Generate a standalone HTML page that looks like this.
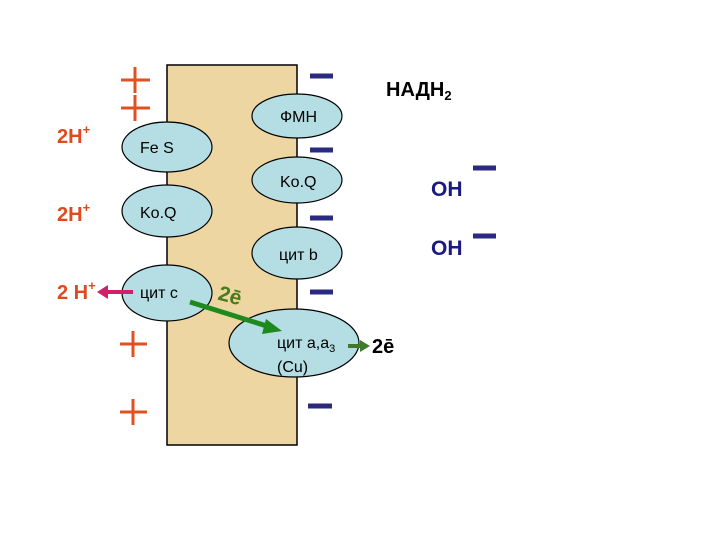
<!DOCTYPE html>
<html><head><meta charset="utf-8"><style>
html,body{margin:0;padding:0;background:#fff;}
svg{display:block;}
text{font-family:"Liberation Sans",sans-serif;}
</style></head><body>
<svg width="720" height="540" viewBox="0 0 720 540" xmlns="http://www.w3.org/2000/svg">
<rect x="167" y="65" width="130" height="380" fill="#eed6a2" stroke="#000" stroke-width="1.5"/>
<g stroke="#e05020" stroke-width="3">
<line x1="121" y1="80" x2="150" y2="80"/><line x1="135" y1="67" x2="135" y2="93"/>
<line x1="121" y1="108" x2="150" y2="108"/><line x1="135" y1="95" x2="135" y2="121"/>
<line x1="120" y1="344" x2="147" y2="344"/><line x1="133" y1="331" x2="133" y2="357"/>
<line x1="120" y1="412" x2="147" y2="412"/><line x1="133" y1="399" x2="133" y2="425"/>
</g>
<g stroke="#2a2a80" stroke-width="5">
<line x1="310" y1="76" x2="333" y2="76"/>
<line x1="310" y1="150" x2="333" y2="150"/>
<line x1="310" y1="218" x2="333" y2="218"/>
<line x1="310" y1="292" x2="333" y2="292"/>
<line x1="308" y1="406" x2="332" y2="406"/>
<line x1="473" y1="168" x2="496" y2="168"/>
<line x1="473" y1="236" x2="496" y2="236"/>
</g>
<g fill="#b4dde4" stroke="#000" stroke-width="1.2">
<ellipse cx="297" cy="116" rx="45" ry="22"/>
<ellipse cx="167" cy="147" rx="45" ry="25"/>
<ellipse cx="297" cy="180" rx="45" ry="23"/>
<ellipse cx="167" cy="211" rx="45" ry="26"/>
<ellipse cx="297" cy="253" rx="45" ry="26"/>
<ellipse cx="167" cy="293" rx="45" ry="28"/>
<ellipse cx="294" cy="343" rx="65" ry="34"/>
</g>
<g font-size="16" fill="#000">
<text x="280" y="122">ФМН</text>
<text x="140" y="153">Fe S</text>
<text x="280" y="187">Ko.Q</text>
<text x="140" y="218">Ko.Q</text>
<text x="279" y="260">цит b</text>
<text x="140" y="298">цит с</text>
<text x="277" y="348">цит а,а<tspan font-size="11" dy="4">3</tspan></text>
<text x="277" y="372">(Cu)</text>
</g>
<text x="386" y="96" font-size="20" font-weight="bold">НАДН<tspan font-size="13" dy="4">2</tspan></text>
<g font-size="21" font-weight="bold" fill="#1a1a80">
<text x="431" y="196">OH</text>
<text x="431" y="255">OH</text>
</g>
<g font-size="20" font-weight="bold" fill="#e04a1e">
<text x="57" y="143">2H<tspan font-size="13" dy="-9">+</tspan></text>
<text x="57" y="221">2H<tspan font-size="13" dy="-9">+</tspan></text>
<text x="57" y="299">2 H<tspan font-size="13" dy="-9">+</tspan></text>
</g>
<line x1="133" y1="292" x2="103" y2="292" stroke="#d0206a" stroke-width="4"/>
<path d="M97,292 L108,285 L108,299 z" fill="#d0206a"/>
<line x1="190" y1="302" x2="270" y2="327" stroke="#1e8a1e" stroke-width="5"/>
<path d="M282,331 L266,319 L262,334 z" fill="#1e8a1e"/>
<text x="218" y="304" font-size="21" font-weight="bold" fill="#4a7a1a" transform="rotate(15 235 298)">2ē</text>
<line x1="348" y1="346" x2="362" y2="346" stroke="#3f7a2a" stroke-width="4"/>
<path d="M360,340 L370,346 L360,352 z" fill="#3f7a2a"/>
<text x="372" y="353" font-size="20" font-weight="bold" fill="#000">2ē</text>
</svg>
</body></html>
